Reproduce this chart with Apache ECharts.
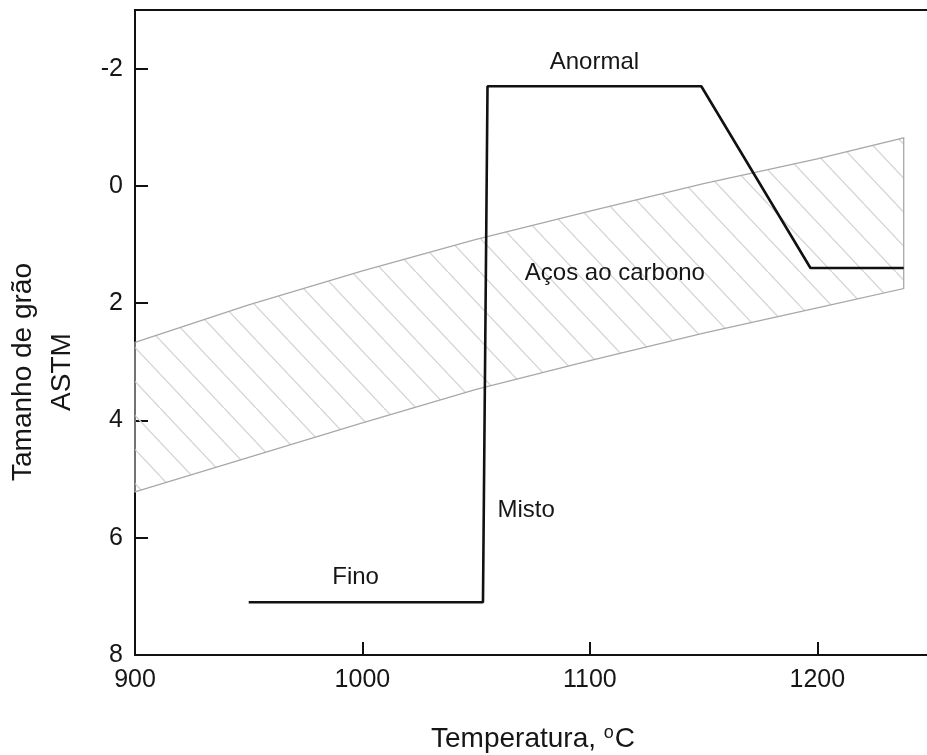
<!DOCTYPE html>
<html>
<head>
<meta charset="utf-8">
<script src="https://cdn.jsdelivr.net/npm/echarts@6/dist/echarts.min.js"></script>
<style>
html,body{margin:0;padding:0;background:#fff;}
#chart{width:927px;height:755px;}
</style>
</head>
<body>
<div id="chart"></div>
<script>
// ---- data ----
var yTicks = [-2, 0, 2, 4, 6, 8];
var bandX = [900, 950, 1000, 1050, 1100, 1150, 1200, 1238];
var bandUpper = [2.67, 2.03, 1.45, 0.91, 0.43, -0.04, -0.46, -0.82];
var bandLower = [5.22, 4.63, 4.04, 3.47, 2.98, 2.51, 2.08, 1.75];
var pathX = [950, 1053, 1055, 1149, 1197, 1238];
var pathY = [7.1, 7.1, -1.7, -1.7, 1.4, 1.4];
var labelNames = ['Anormal', 'Aços ao carbono', 'Misto', 'Fino'];
var labelX = [1102, 1111, 1072, 997];
var labelY = [-2.11, 1.5, 5.53, 6.67];

// hatch pattern
var W = 32, H = 34;
var pc = document.createElement('canvas');
pc.width = W; pc.height = H;
var ctx = pc.getContext('2d');
ctx.strokeStyle = '#d6d6d6';
ctx.lineWidth = 1.3;
[-W, 0, W].forEach(function (o) {
  ctx.beginPath();
  ctx.moveTo(o, 0);
  ctx.lineTo(o + W, H);
  ctx.stroke();
});

var FONT = 'Liberation Sans, Arial, sans-serif';
var TXT = '#161616';
var chart = echarts.init(document.getElementById('chart'));
chart.setOption({
  animation: false,
  backgroundColor: '#fff',
  textStyle: { fontFamily: FONT },
  grid: { left: 135, top: 10, right: -4, bottom: 100, outerBoundsMode: 'none', containLabel: false,
    show: true, borderColor: '#111', borderWidth: 2, backgroundColor: 'transparent' },
  xAxis: {
    type: 'value', min: 900, max: 1250, interval: 100,
    axisLine: { onZero: false, lineStyle: { color: '#111', width: 2 } },
    axisTick: { inside: true, length: 13, lineStyle: { color: '#111', width: 2 } },
    axisLabel: { fontSize: 25, color: TXT, margin: 13, fontFamily: FONT, showMaxLabel: false,
      formatter: function (v) { return String(v); } },
    splitLine: { show: false },
    name: 'Temperatura, {sup|o}C',
    nameLocation: 'middle', nameGap: 69,
    nameTextStyle: { fontSize: 28, color: TXT, fontFamily: FONT,
      rich: { sup: { fontSize: 18, color: TXT, verticalAlign: 'top', padding: [0, 1, 13, 0], fontFamily: FONT } } }
  },
  yAxis: {
    type: 'value', inverse: true, min: -3, max: 8,
    axisLine: { onZero: false, lineStyle: { color: '#111', width: 2 } },
    axisTick: { inside: true, length: 13, customValues: yTicks, lineStyle: { color: '#111', width: 2 } },
    axisLabel: { fontSize: 25, color: TXT, margin: 12, customValues: yTicks, fontFamily: FONT },
    splitLine: { show: false }
  },
  graphic: [{
    type: 'text', x: 43, y: 372, rotation: Math.PI / 2,
    style: { text: 'Tamanho de grão\nASTM', align: 'center', verticalAlign: 'middle',
      fontSize: 28, fontFamily: FONT, fill: TXT, lineHeight: 39 }
  }],
  series: [
    {
      type: 'custom', z: 1, silent: true,
      data: [0],
      renderItem: function (params, api) {
        var pts = [];
        for (var i = 0; i < bandX.length; i++) pts.push(api.coord([bandX[i], bandUpper[i]]));
        for (var j = bandX.length - 1; j >= 0; j--) pts.push(api.coord([bandX[j], bandLower[j]]));
        return {
          type: 'polygon',
          shape: { points: pts },
          style: { fill: { image: pc, repeat: 'repeat' }, stroke: '#a8a8a8', lineWidth: 1.3 }
        };
      }
    },
    {
      type: 'line', z: 3, symbol: 'none',
      data: pathX.map(function (x, i) { return [x, pathY[i]]; }),
      lineStyle: { color: '#111', width: 2.6 }
    },
    {
      type: 'scatter', z: 4, symbolSize: 1,
      itemStyle: { color: 'transparent', opacity: 1 },
      data: labelNames.map(function (n, i) { return { name: n, value: [labelX[i], labelY[i]] }; }),
      label: { show: true, position: 'inside', formatter: '{b}', fontSize: 24, color: TXT, opacity: 1,
        textBorderWidth: 0, fontFamily: FONT }
    }
  ]
});
</script>
</body>
</html>
